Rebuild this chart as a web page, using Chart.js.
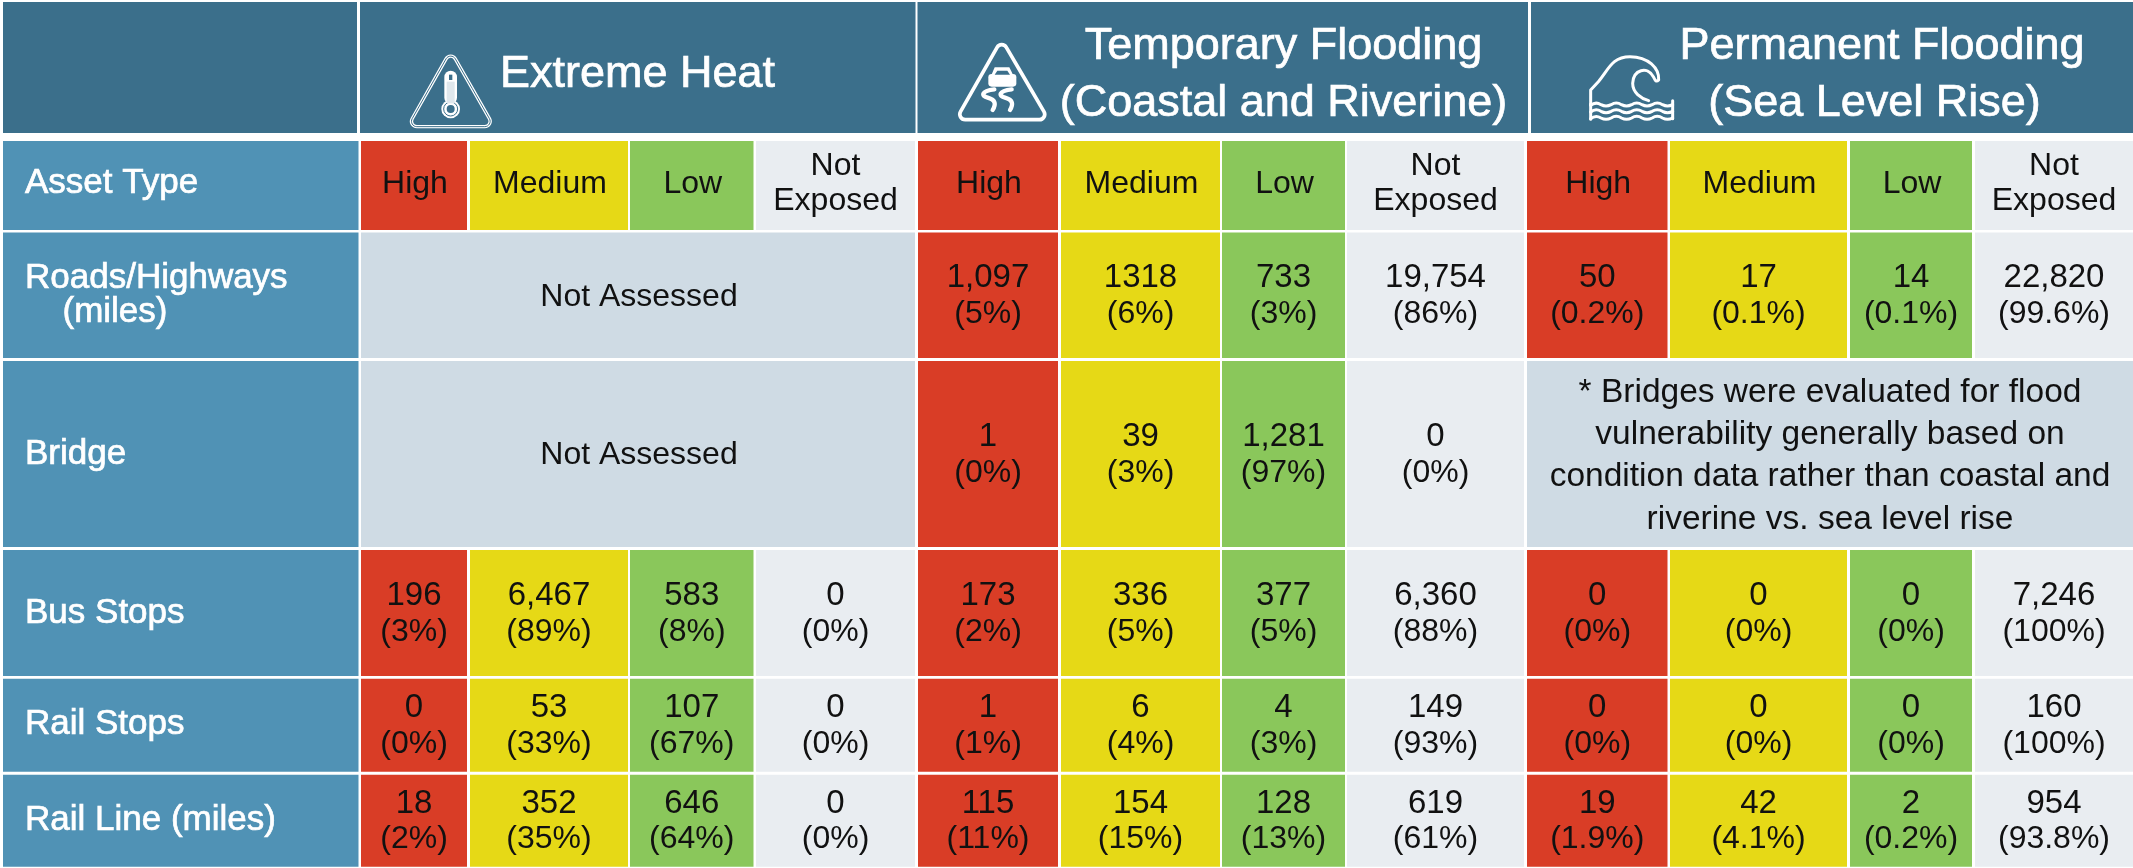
<!DOCTYPE html>
<html>
<head>
<style>body{margin:0;background:#fff}canvas{display:block}</style>
</head>
<body>
<canvas id="myChart" width="2133" height="868"></canvas>

<script src="https://cdn.jsdelivr.net/npm/chart.js"></script>
<script>
// what the table says
let assetTypes = ['Roads/Highways', 'Bridge', 'Bus Stops', 'Rail Stops', 'Rail Line (miles)'];
let ratings = ['High', 'Medium', 'Low', 'Not Exposed'];

let heatCounts = [null, null, ['196', '6,467', '583', '0'], ['0', '53', '107', '0'], ['18', '352', '646', '0']];
let heatShares = [null, null, ['3%', '89%', '8%', '0%'], ['0%', '33%', '67%', '0%'], ['2%', '35%', '64%', '0%']];
let tempCounts = [['1,097', '1318', '733', '19,754'], ['1', '39', '1,281', '0'], ['173', '336', '377', '6,360'], ['1', '6', '4', '149'], ['115', '154', '128', '619']];
let tempShares = [['5%', '6%', '3%', '86%'], ['0%', '3%', '97%', '0%'], ['2%', '5%', '5%', '88%'], ['1%', '4%', '3%', '93%'], ['11%', '15%', '13%', '61%']];
let permCounts = [['50', '17', '14', '22,820'], null, ['0', '0', '0', '7,246'], ['0', '0', '0', '160'], ['19', '42', '2', '954']];
let permShares = [['0.2%', '0.1%', '0.1%', '99.6%'], null, ['0%', '0%', '0%', '100%'], ['0%', '0%', '0%', '100%'], ['1.9%', '4.1%', '0.2%', '93.8%']];

let notAssessed = 'Not Assessed';
let bridgeNote = ['* Bridges were evaluated for flood', 'vulnerability generally based on', 'condition data rather than coastal and', 'riverine vs. sea level rise'];

// table grid, in axis units
let labelEdge = [3, 358.5];
let heatEdges = [[361, 467], [470, 628], [630, 753.5], [756, 915]];
let tempEdges = [[918, 1058], [1061, 1220], [1222, 1345], [1347, 1524]];
let permEdges = [[1527, 1667.5], [1670, 1847], [1850, 1972], [1975, 2133]];
let headEdges = [[3, 357], [360, 915.5], [917.5, 1528], [1531, 2133]];
let headRow = [2, 133];
let ratingRow = [141, 230];
let assetRows = [[232.5, 358], [361, 547], [550, 676], [678.7, 771.7], [774.7, 866.7]];

let headBlue = '#3b6f8b', labelBlue = '#5092b5', greyBlue = '#cfdbe4';
let ratingColors = ['#d93d26', '#e6d916', '#8ac75b', '#e9edf1'];
let fontName = '"Liberation Sans"';

function mid(a) { return (a[0] + a[1]) / 2; }

function bar(edge, row, color) {
    return { x: edge, y: mid(row), color: color };
}

function rowDataset(row, cells) {
    return {
        data: cells,
        barThickness: row[1] - row[0],
        backgroundColor: cells.map(c => c.color),
        inflateAmount: 0,
        borderWidth: 0,
        grouped: false
    };
}

let datasets = [];
datasets.push(rowDataset(headRow, headEdges.map(e => bar(e, headRow, headBlue))));

let allEdges = [heatEdges, tempEdges, permEdges];
let ratingCells = [bar(labelEdge, ratingRow, labelBlue)];
allEdges.forEach(g => g.forEach((e, i) => ratingCells.push(bar(e, ratingRow, ratingColors[i]))));
datasets.push(rowDataset(ratingRow, ratingCells));

let allCounts = [heatCounts, tempCounts, permCounts];
assetRows.forEach((row, r) => {
    let cells = [bar(labelEdge, row, labelBlue)];
    allEdges.forEach((edges, g) => {
        if (allCounts[g][r]) {
            edges.forEach((e, i) => cells.push(bar(e, row, ratingColors[i])));
        } else {
            cells.push(bar([edges[0][0], edges[3][1]], row, greyBlue));
        }
    });
    datasets.push(rowDataset(row, cells));
});

function roundedTriangle(ctx, a, b, c, r) {
    ctx.beginPath();
    ctx.moveTo((a[0] + b[0]) / 2, (a[1] + b[1]) / 2);
    ctx.arcTo(b[0], b[1], c[0], c[1], r);
    ctx.arcTo(c[0], c[1], a[0], a[1], r);
    ctx.arcTo(a[0], a[1], b[0], b[1], r);
    ctx.closePath();
}

function heatIcon(ctx) {
    ctx.save();
    ctx.translate(380, 30);
    ctx.scale(1 / 3, 1 / 3);
    ctx.lineJoin = 'round';
    roundedTriangle(ctx, [212, 62], [342, 290], [83, 290], 16);
    ctx.strokeStyle = '#fff'; ctx.lineWidth = 10; ctx.stroke();
    ctx.strokeStyle = headBlue; ctx.lineWidth = 3; ctx.stroke();
    // thermometer
    ctx.fillStyle = '#fff';
    ctx.beginPath(); ctx.roundRect(193, 122, 38, 100, 19); ctx.fill();
    ctx.beginPath(); ctx.arc(212, 237, 28, 0, Math.PI * 2); ctx.fill();
    ctx.strokeStyle = headBlue; ctx.lineWidth = 3;
    ctx.beginPath(); ctx.arc(212, 237, 21, 0, Math.PI * 2); ctx.stroke();
    ctx.fillStyle = '#dfe7ec';
    ctx.fillRect(200, 155, 24, 65);
    ctx.fillStyle = headBlue;
    ctx.beginPath(); ctx.arc(212, 237, 12, 0, Math.PI * 2); ctx.fill();
    ctx.fillRect(207, 134, 10, 16);
    ctx.restore();
}

function squiggle(ctx, x, y) {
    ctx.beginPath();
    ctx.moveTo(x + 35, y);
    ctx.bezierCurveTo(x - 5, y + 5, x - 5, y + 20, x + 15, y + 25);
    ctx.bezierCurveTo(x + 40, y + 32, x + 40, y + 45, x + 30, y + 62);
    ctx.stroke();
}

function roadIcon(ctx) {
    ctx.save();
    ctx.translate(940, 30);
    ctx.scale(1 / 3, 1 / 3);
    ctx.strokeStyle = '#fff';
    ctx.fillStyle = '#fff';
    ctx.lineJoin = 'round';
    ctx.lineCap = 'round';
    ctx.lineWidth = 11;
    roundedTriangle(ctx, [185, 28], [326, 269], [48, 269], 16);
    ctx.stroke();
    // car
    ctx.beginPath(); ctx.roundRect(145, 132, 84, 38, 10); ctx.fill();
    ctx.beginPath();
    ctx.moveTo(152, 140); ctx.lineTo(164, 112); ctx.lineTo(208, 112); ctx.lineTo(222, 140);
    ctx.closePath(); ctx.fill();
    ctx.fillStyle = headBlue;
    ctx.beginPath();
    ctx.moveTo(164, 134); ctx.lineTo(172, 122); ctx.lineTo(202, 122); ctx.lineTo(210, 134);
    ctx.closePath(); ctx.fill();
    ctx.lineWidth = 13;
    squiggle(ctx, 128, 178);
    squiggle(ctx, 180, 178);
    ctx.restore();
}

function waveIcon(ctx) {
    ctx.save();
    ctx.translate(1570, 30);
    ctx.scale(1 / 3, 1 / 3);
    ctx.strokeStyle = '#fff';
    ctx.lineJoin = 'round';
    ctx.lineCap = 'round';
    ctx.lineWidth = 9;
    ctx.beginPath();
    ctx.moveTo(62, 222);
    ctx.lineTo(62, 180);
    ctx.lineTo(85, 155);
    ctx.bezierCurveTo(115, 120, 125, 80, 180, 80);
    ctx.bezierCurveTo(235, 80, 268, 115, 266, 150);
    ctx.bezierCurveTo(258, 158, 255, 150, 250, 140);
    ctx.bezierCurveTo(232, 108, 190, 118, 188, 160);
    ctx.bezierCurveTo(188, 188, 212, 205, 236, 212);
    ctx.stroke();
    [226, 246, 266].forEach(y => {
        ctx.beginPath();
        ctx.moveTo(62, y);
        for (let i = 0; i < 4; i++) {
            let x = 62 + i * 61.5;
            ctx.quadraticCurveTo(x + 15, y - 12, x + 31, y - 2);
            ctx.quadraticCurveTo(x + 46, y + 6, x + 61.5, y - 2);
        }
        ctx.stroke();
    });
    ctx.beginPath(); ctx.moveTo(308, 212); ctx.lineTo(308, 266); ctx.stroke();
    ctx.beginPath(); ctx.moveTo(62, 222); ctx.lineTo(62, 268); ctx.stroke();
    ctx.restore();
}

// all the writing goes through the scales
let tableText = {
    id: 'tableText',
    afterDatasetsDraw(chart) {
        let ctx = chart.ctx;
        let xs = chart.scales.x, ys = chart.scales.y;

        function put(str, x, y, size, color, align) {
            ctx.font = size + 'px ' + fontName;
            ctx.fillStyle = color;
            ctx.textAlign = align || 'center';
            ctx.textBaseline = 'alphabetic';
            let px = xs.getPixelForValue(x), py = ys.getPixelForValue(y) + size * 0.36;
            ctx.fillText(str, px, py);
            // the white lettering is a bit heavier in the original
            if (color === '#fff') {
                ctx.strokeStyle = color;
                ctx.lineWidth = 0.7;
                ctx.strokeText(str, px, py);
            }
        }

        // header
        put('Extreme Heat', 637.5, 71, 45, '#fff');
        put('Temporary Flooding', 1283.5, 42.5, 45, '#fff');
        put('(Coastal and Riverine)', 1283.5, 99.5, 45, '#fff');
        put('Permanent Flooding', 1882, 42.5, 45, '#fff');
        put('(Sea Level Rise)', 1874.5, 99.5, 45, '#fff');
        heatIcon(ctx);
        roadIcon(ctx);
        waveIcon(ctx);

        // rating row
        put('Asset Type', 25, 180, 35, '#fff', 'left');
        allEdges.forEach(edges => edges.forEach((e, i) => {
            if (i < 3) {
                put(ratings[i], mid(e) + 1, 181.5, 32, '#111');
            } else {
                let parts = ratings[i].split(' ');
                put(parts[0], mid(e), 163, 32, '#111');
                put(parts[1], mid(e), 198.5, 32, '#111');
            }
        }));

        // asset rows
        let labelY = [null, 451, 610, 721, 817];
        assetRows.forEach((row, r) => {
            if (r === 0) {
                put(assetTypes[0], 25, 275, 35, '#fff', 'left');
                put('(miles)', 62.5, 309, 35, '#fff', 'left');
            } else {
                put(assetTypes[r], 25, labelY[r], 35, '#fff', 'left');
            }
            let c = mid(row) - 2;
            allEdges.forEach((edges, g) => {
                let counts = allCounts[g][r];
                let shares = [heatShares, tempShares, permShares][g][r];
                if (counts) {
                    edges.forEach((e, i) => {
                        put(counts[i], mid(e), c - 18, 33, '#111');
                        put('(' + shares[i] + ')', mid(e), c + 18, 32, '#111');
                    });
                } else if (g === 0) {
                    put(notAssessed, mid([edges[0][0], edges[3][1]]) + 1, r === 0 ? 294 : 452, 32, '#111');
                } else {
                    bridgeNote.forEach((line, k) => put(line, 1830, 390 + k * 42.2, 33.5, '#111'));
                }
            });
        });
    }
};

let ctx = document.getElementById('myChart').getContext('2d');
let chart = new Chart(ctx, {
    type: 'bar',
    data: { datasets: datasets },
    options: {
        indexAxis: 'y',
        responsive: false,
        animation: false,
        layout: { padding: 0 },
        plugins: { legend: { display: false }, tooltip: { enabled: false } },
        scales: {
            x: { type: 'linear', min: 0, max: 2133, display: false },
            y: { type: 'linear', min: 0, max: 868, reverse: true, offset: false, display: false }
        }
    },
    plugins: [tableText]
});
</script>

</body>
</html>
